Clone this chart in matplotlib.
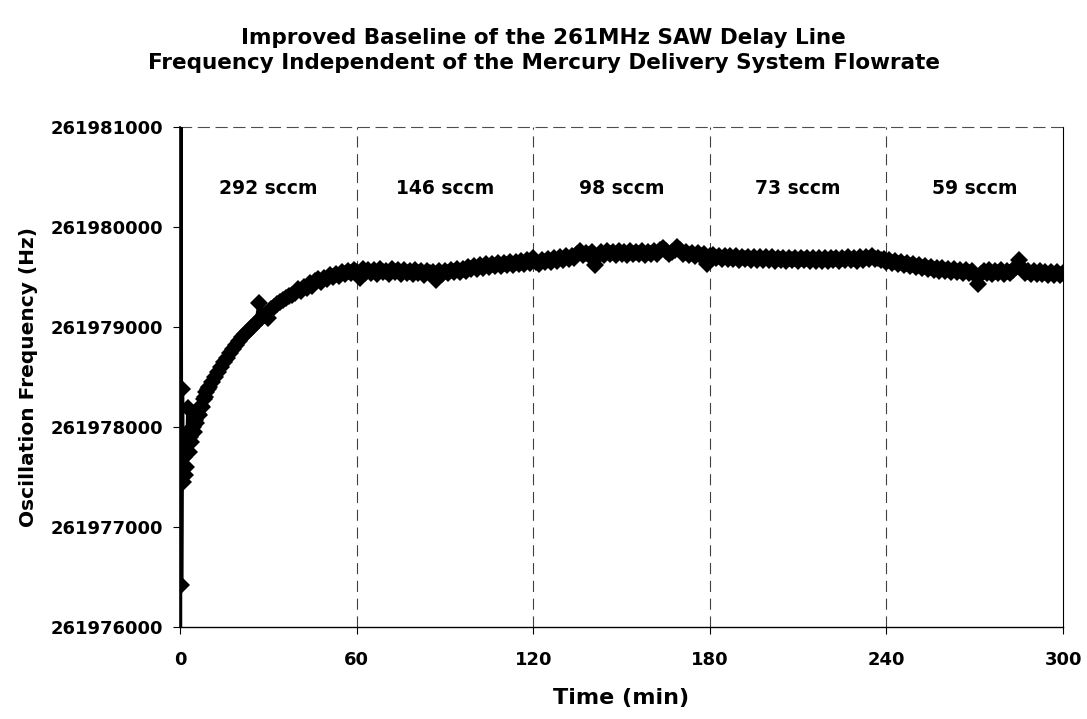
import numpy as np
import matplotlib.pyplot as plt

plt.rcParams['font.family'] = ['DejaVu Sans']
plt.rcParams['font.weight'] = 'bold'

# frequency readings, stored as Hz above 261979000 Hz
base_hz = 261979000

# start-up (fractional minutes)
early_min = [0.0, 0.2, 0.4, 0.7, 1.0, 1.3, 1.6, 1.9, 2.2, 2.6, 2.8, 3.1, 3.5, 3.9,
             4.3, 4.7, 5.1, 5.5, 6.0, 6.5, 7.0, 7.5, 8.0, 8.5, 9.0, 9.5]
early_hz = [-5000, 3000, -2580, -620, -1550, -1300, -1480, -1150, -1400, -1050, -810, -1250,
            -1100, -1150, -1000, -1050, -930, -960, -870, -880, -790, -800, -720, -700,
            -650, -620]

# one reading per minute from 10 to 300 min
late_min = list(range(10, 301))
late_hz = [
    # 10-60
    -600, -550, -500, -450, -405, -355, -310, -265, -220, -180, -140, -100, -70, -40, -10,
    20, 50, 240, 100, 120, 90, 175, 200, 225, 245, 270, 290, 305, 320, 340, 375, 355, 400,
    385, 440, 410, 455, 480, 450, 490, 475, 515, 495, 530, 510, 545, 525, 560, 540, 570, 550,
    # 61-120
    490, 575, 535, 570, 540, 565, 530, 575, 545, 560, 530, 575, 550, 565, 530, 570, 540, 560,
    525, 565, 540, 555, 520, 560, 535, 545, 470, 555, 525, 560, 535, 570, 545, 575, 550, 580,
    560, 595, 575, 605, 580, 615, 590, 625, 600, 630, 605, 635, 610, 640, 615, 645, 620, 650,
    625, 655, 630, 665, 640, 685,
    # 121-180
    650, 630, 670, 645, 680, 650, 685, 660, 695, 670, 705, 680, 710, 690, 725, 760, 715, 740,
    720, 745, 620, 710, 745, 720, 755, 725, 750, 720, 755, 730, 750, 720, 760, 725, 750, 730,
    755, 720, 750, 730, 755, 725, 770, 790, 760, 725, 750, 770, 795, 765, 730, 750, 715, 740,
    710, 735, 705, 725, 630, 705,
    # 181-240
    720, 685, 710, 680, 705, 675, 705, 680, 705, 670, 700, 675, 700, 670, 700, 670, 695, 665,
    695, 670, 695, 660, 690, 670, 690, 660, 690, 665, 690, 660, 685, 665, 690, 655, 685, 660,
    685, 655, 685, 660, 690, 665, 690, 660, 690, 665, 695, 665, 690, 660, 695, 670, 700, 680,
    710, 675, 690, 665, 680, 650,
    # 241-300
    670, 640, 660, 630, 650, 615, 640, 605, 625, 595, 615, 585, 605, 575, 595, 565, 590, 560,
    585, 555, 580, 550, 575, 545, 570, 540, 565, 535, 560, 515, 430, 525, 560, 535, 565, 530,
    560, 535, 565, 530, 560, 535, 565, 600, 670, 585, 535, 560, 530, 555, 525, 555, 525, 550,
    520, 550, 520, 545, 520, 535,
]
assert len(late_hz) == len(late_min)

time_min = np.array(early_min + late_min)
freq_hz = base_hz + np.array(early_hz + late_hz)

flow_labels = ['292 sccm', '146 sccm', '98 sccm', '73 sccm', '59 sccm']
flow_centers = [30, 90, 150, 210, 270]
flow_changes = [60, 120, 180, 240]
x_ticks = [0, 60, 120, 180, 240, 300]
y_ticks = [261976000, 261977000, 261978000, 261979000, 261980000, 261981000]

fig = plt.figure(figsize=(10.87, 7.19), dpi=100)
ax = fig.add_axes([0.1656, 0.128, 0.8124, 0.6954])

for t in flow_changes:
    ax.axvline(t, color='0.25', lw=0.8, ls=(0, (10, 6)), zorder=1)

ax.plot(time_min, freq_hz, color='black', lw=3, marker='D', markersize=9.5,
        markeredgewidth=0, zorder=3)

for lab, t in zip(flow_labels, flow_centers):
    ax.text(t, 261980380, lab, ha='center', va='center', fontsize=13.5, fontweight='bold')

ax.set_xlim(0, 300)
ax.set_ylim(261976000, 261981000)
ax.set_xticks(x_ticks)
ax.set_yticks(y_ticks)
ax.set_yticklabels([str(v) for v in y_ticks])
ax.tick_params(axis='both', labelsize=13, direction='out', length=5, width=0.8, color='black')
ax.tick_params(axis='x', pad=12)
ax.tick_params(axis='y', pad=7)
for lab in ax.get_xticklabels() + ax.get_yticklabels():
    lab.set_fontweight('bold')

ax.spines['top'].set_linestyle((0, (10, 6)))
ax.spines['top'].set_linewidth(0.8)
ax.spines['top'].set_color('0.3')
ax.spines['right'].set_linewidth(0.8)
ax.spines['left'].set_linewidth(1.2)
ax.spines['bottom'].set_linewidth(1.0)

ax.set_xlabel('Time (min)', fontsize=16, fontweight='bold', labelpad=14)
ax.set_ylabel('Oscillation Frequency (Hz)', fontsize=14.5, fontweight='bold', labelpad=9)

fig.text(0.5, 0.947, 'Improved Baseline of the 261MHz SAW Delay Line',
         ha='center', va='center', fontsize=15.5, fontweight='bold')
fig.text(0.5, 0.912, 'Frequency Independent of the Mercury Delivery System Flowrate',
         ha='center', va='center', fontsize=15.5, fontweight='bold')

fig.savefig('out.png', dpi=100)
